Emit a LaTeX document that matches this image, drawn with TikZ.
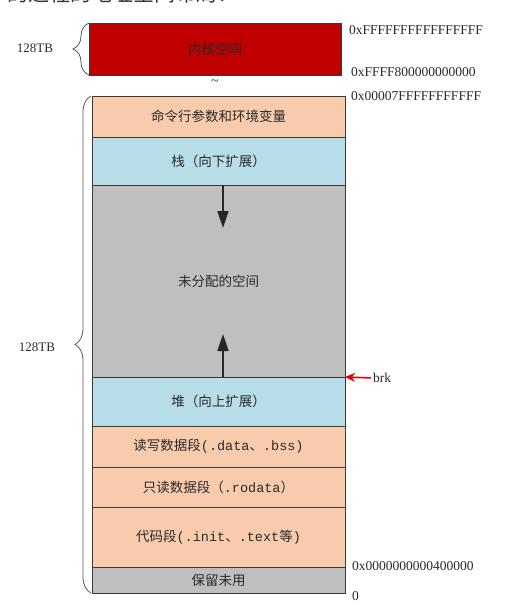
\documentclass[tikz,border=0pt]{standalone}
\usepackage{fontspec}
\setmainfont{Liberation Serif}
\newfontfamily\cjk{Noto Sans CJK SC}
\newfontfamily\lat{Liberation Mono}
\usetikzlibrary{arrows.meta,decorations.pathreplacing}
\definecolor{kred}{HTML}{C00000}
\definecolor{lorange}{HTML}{F8CBAD}
\definecolor{lblue}{HTML}{B7DEE8}
\definecolor{lgray}{HTML}{BFBFBF}
\definecolor{edge}{HTML}{3A3A3A}
\definecolor{txt}{HTML}{2A2A2A}
\tikzset{
  seg/.style={draw=edge, line width=0.9pt, inner sep=0pt, outer sep=0pt,
    minimum width=253pt, text=txt, font=\cjk\fontsize{13.5}{14}\selectfont},
  addr/.style={anchor=west, inner sep=0pt, text=txt, font=\fontsize{13.5}{14}\selectfont},
  sizelbl/.style={inner sep=0pt, text=txt, font=\fontsize{13}{14}\selectfont},
  bracestyle/.style={draw=black!65, line width=0.8pt, decorate,
    decoration={brace, amplitude=16pt, aspect=0.5}},
  growarrow/.style={draw=black!85, line width=1.6pt,
    -{Triangle[length=17pt,width=11pt]}}
}
\begin{document}
\begin{tikzpicture}[x=1pt,y=-1pt]
\useasboundingbox (0,0) rectangle (520,611);
\fill[white] (0,0) rectangle (520,611);
% clipped header fragment
\begin{scope}
\clip (0,0) rectangle (520,611);
\node[anchor=base west, inner sep=0pt, text=black!80, font=\cjk\fontsize{21}{22}\selectfont] (hdr) at (7,1.5) {的进程的地址空间布局：};
\end{scope}
% kernel space
\node[seg, fill=kred, minimum width=252pt, minimum height=52pt] (kern) at (215,49) {内核空间};
\node[inner sep=0pt, text=txt, font=\fontsize{14}{14}\selectfont] (tilde) at (215,83) {\textasciitilde};
% user space segments
\node[seg, fill=lorange, minimum height=41pt] (args) at (218.5,116.5) {命令行参数和环境变量};
\node[seg, fill=lblue, minimum height=48pt] (stack) at (218.5,161) {栈（向下扩展）};
\node[seg, fill=lgray, minimum height=192pt] (free) at (218.5,281) {未分配的空间};
\node[seg, fill=lblue, minimum height=49pt] (heap) at (218.5,401.5) {堆（向上扩展）};
\node[seg, fill=lorange, minimum height=41pt] (rw) at (218.5,446.5) {读写数据段{\lat(.data}、{\lat.bss)}};
\node[seg, fill=lorange, minimum height=40pt] (ro) at (218.5,487) {只读数据段（{\lat.rodata}）};
\node[seg, fill=lorange, minimum height=60pt] (code) at (218.5,537) {代码段{\lat(.init}、{\lat.text}等{\lat)}};
\node[seg, fill=lgray, minimum height=26pt] (res) at (218.5,580) {保留未用};
% growth arrows
\coordinate (downend) at (223,228);
\coordinate (upend) at (223,334);
\draw[growarrow] (stack.south -| downend) -- (downend);
\draw[growarrow] (heap.north -| upend) -- (upend);
% braces
\draw[bracestyle] (kern.south west) -- (kern.north west);
\coordinate (mtop) at (91,96);
\coordinate (mbot) at (91,593);
\draw[bracestyle] (mbot) -- (mtop);
\node[sizelbl] (ksize) at (35,48) {128TB};
\node[sizelbl] (usize) at (37,347) {128TB};
% addresses
\node[addr] (a1) at (349,30) {0xFFFFFFFFFFFFFFFF};
\node[addr] (a2) at (351,72) {0xFFFF800000000000};
\node[addr] (a3) at (351,96) {0x00007FFFFFFFFFFF};
\node[addr] (a4) at (352,566) {0x0000000000400000};
\node[addr] (a5) at (352,596) {0};
% brk
\node[addr] (brk) at (373,378) {brk};
\draw[draw=red!90!black, line width=1.6pt, shorten <=2pt, -{Stealth[length=10pt,width=9pt]}] (brk.west) -- (heap.north east);
\end{tikzpicture}
\end{document}
